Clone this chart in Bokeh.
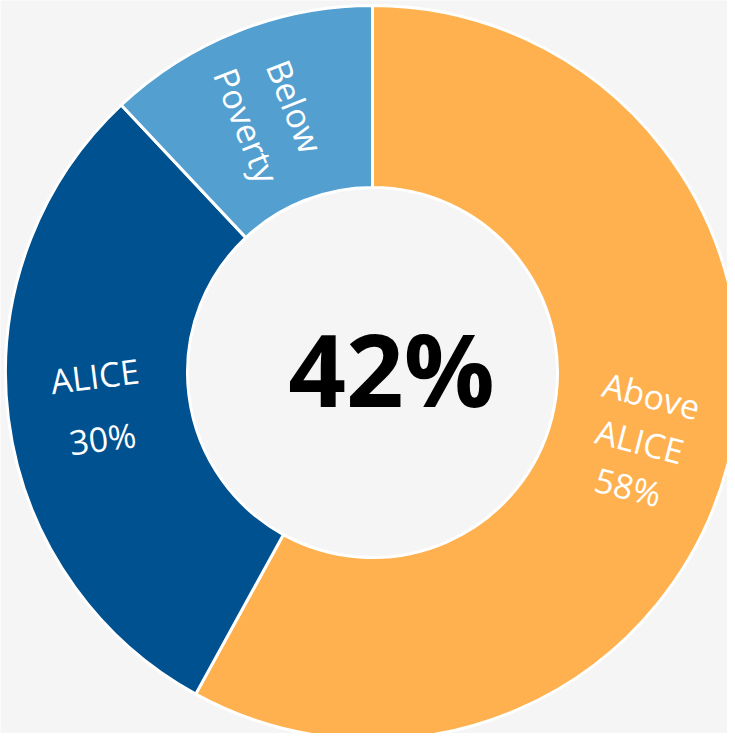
import math
from bokeh.plotting import figure
from bokeh.models import Range1d, ColumnDataSource
from bokeh.core.properties import value
from bokeh.embed import file_html
from bokeh.resources import INLINE

# ---- data ----
categories = ["Above ALICE", "ALICE", "Below Poverty"]
percents = [58, 30, 12]
colors = ["#FFB150", "#00518F", "#529FD0"]
label_lines = [["Above", "ALICE", "58%"], ["ALICE", "30%"], ["Below", "Poverty"]]
line_spacing = [47, 63, 52]
center_text = "42%"

# ---- geometry (pixel units, origin at donut centre) ----
R_OUT, R_IN = 367, 185
R_LABEL = 276

W, H = 727, 733
CX, CY = 372, 372  # donut centre in figure pixels
p = figure(width=W, height=H,
           x_range=Range1d(-CX, W - CX), y_range=Range1d(CY - H, CY),
           output_backend="svg", toolbar_location=None, min_border=0)
p.axis.visible = False
p.grid.visible = False
p.outline_line_color = None
p.background_fill_color = "#f5f5f5"
p.border_fill_color = "#f5f5f5"

starts, ends, mids = [], [], []
cum = 0
for v in percents:
    a0 = math.radians(90 - cum * 3.6)
    cum += v
    a1 = math.radians(90 - cum * 3.6)
    starts.append(a0)
    ends.append(a1)
    mids.append((a0 + a1) / 2)

src = ColumnDataSource(dict(cat=categories, start=starts, end=ends, color=colors,
                            x=[0] * len(categories), y=[0] * len(categories)))
p.annular_wedge(x="x", y="y", inner_radius=R_IN, outer_radius=R_OUT,
                start_angle="start", end_angle="end", direction="clock",
                fill_color="color", line_color="white", line_width=3, source=src)

# ---- labels: radial text in each segment ----
tx, ty, tt, ta = [], [], [], []
for lines, mid, sp in zip(label_lines, mids, line_spacing):
    rot = mid if math.cos(mid) > 0 else mid - math.pi
    cx, cy = R_LABEL * math.cos(mid), R_LABEL * math.sin(mid)
    dx, dy = math.sin(rot), -math.cos(rot)  # "next line" direction
    n = len(lines)
    for i, s in enumerate(lines):
        off = (i - (n - 1) / 2) * sp
        tx.append(cx + dx * off)
        ty.append(cy + dy * off)
        tt.append(s)
        ta.append(rot)

p.text(x=tx, y=ty, text=tt, angle=ta, text_color="white",
       text_font=value("Open Sans"), text_font_size="34px",
       text_align="center", text_baseline="middle")

p.text(x=[19], y=[5], text=[center_text], text_color="black",
       text_font=value("Open Sans"), text_font_size="101px", text_font_style="bold",
       text_align="center", text_baseline="alphabetic")

open("out.html", "w").write(file_html(p, INLINE))
